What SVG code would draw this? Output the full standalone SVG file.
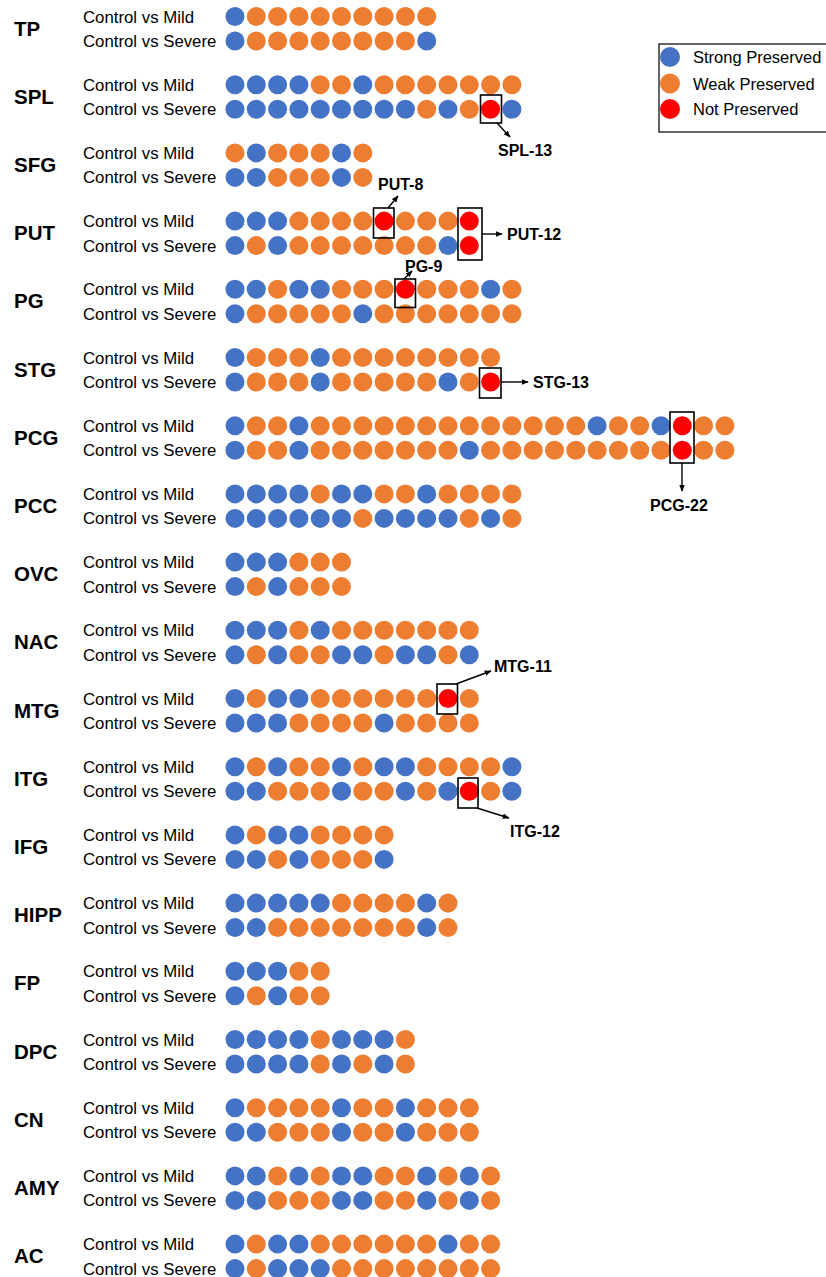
<svg xmlns="http://www.w3.org/2000/svg" width="826" height="1277" viewBox="0 0 826 1277">
<style>
.b{fill:#4472C4}.o{fill:#ED7D31}.r{fill:#FF0000}
.reg{font-family:"Liberation Sans",Arial,sans-serif;font-weight:bold;font-size:20.5px;fill:#000}
.sub{font-family:"Liberation Sans",Arial,sans-serif;font-size:16.8px;fill:#000}
.leg{font-family:"Liberation Sans",Arial,sans-serif;font-size:16.5px;fill:#000}
.ann{font-family:"Liberation Sans",Arial,sans-serif;font-weight:bold;font-size:16px;fill:#000}
.box{fill:none;stroke:#000;stroke-width:1.6}
.ln{fill:none;stroke:#000;stroke-width:1.4;marker-end:url(#ah)}
</style>
<defs>
<marker id="ah" viewBox="0 0 10 10" refX="9" refY="5" markerWidth="5" markerHeight="5" orient="auto" markerUnits="strokeWidth"><path d="M0,1 L10,5 L0,9 Z" fill="#000"/></marker>
</defs>
<rect width="826" height="1277" fill="#fff"/>

<g id="legend">
<rect x="659" y="44" width="190" height="88" fill="#fff" stroke="#000" stroke-width="1.2"/>
<circle class="b" cx="670" cy="57" r="10"/>
<circle class="o" cx="670" cy="83.5" r="10"/>
<circle class="r" cx="670" cy="109" r="10"/>
<text class="leg" x="693" y="63">Strong Preserved</text>
<text class="leg" x="693" y="89.5">Weak Preserved</text>
<text class="leg" x="693" y="115">Not Preserved</text>
</g>

<g id="TP">
<text class="reg" x="14" y="35.5">TP</text>
<text class="sub" x="83" y="22.5">Control vs Mild</text>
<text class="sub" x="83" y="47">Control vs Severe</text>
<g transform="translate(0,16.5)"><circle class="b" cx="235" r="9.5"/><circle class="o" cx="256.3" r="9.5"/><circle class="o" cx="277.6" r="9.5"/><circle class="o" cx="298.9" r="9.5"/><circle class="o" cx="320.2" r="9.5"/><circle class="o" cx="341.5" r="9.5"/><circle class="o" cx="362.8" r="9.5"/><circle class="o" cx="384.1" r="9.5"/><circle class="o" cx="405.4" r="9.5"/><circle class="o" cx="426.7" r="9.5"/></g>
<g transform="translate(0,41)"><circle class="b" cx="235" r="9.5"/><circle class="o" cx="256.3" r="9.5"/><circle class="o" cx="277.6" r="9.5"/><circle class="o" cx="298.9" r="9.5"/><circle class="o" cx="320.2" r="9.5"/><circle class="o" cx="341.5" r="9.5"/><circle class="o" cx="362.8" r="9.5"/><circle class="o" cx="384.1" r="9.5"/><circle class="o" cx="405.4" r="9.5"/><circle class="b" cx="426.7" r="9.5"/></g>
</g>

<g id="SPL">
<text class="reg" x="14" y="103.7">SPL</text>
<text class="sub" x="83" y="90.7">Control vs Mild</text>
<text class="sub" x="83" y="115.2">Control vs Severe</text>
<g transform="translate(0,84.7)"><circle class="b" cx="235" r="9.5"/><circle class="b" cx="256.3" r="9.5"/><circle class="b" cx="277.6" r="9.5"/><circle class="b" cx="298.9" r="9.5"/><circle class="o" cx="320.2" r="9.5"/><circle class="o" cx="341.5" r="9.5"/><circle class="b" cx="362.8" r="9.5"/><circle class="o" cx="384.1" r="9.5"/><circle class="o" cx="405.4" r="9.5"/><circle class="o" cx="426.7" r="9.5"/><circle class="o" cx="448" r="9.5"/><circle class="o" cx="469.3" r="9.5"/><circle class="o" cx="490.6" r="9.5"/><circle class="o" cx="511.9" r="9.5"/></g>
<g transform="translate(0,109.2)"><circle class="b" cx="235" r="9.5"/><circle class="b" cx="256.3" r="9.5"/><circle class="b" cx="277.6" r="9.5"/><circle class="b" cx="298.9" r="9.5"/><circle class="b" cx="320.2" r="9.5"/><circle class="b" cx="341.5" r="9.5"/><circle class="b" cx="362.8" r="9.5"/><circle class="b" cx="384.1" r="9.5"/><circle class="b" cx="405.4" r="9.5"/><circle class="o" cx="426.7" r="9.5"/><circle class="b" cx="448" r="9.5"/><circle class="o" cx="469.3" r="9.5"/><circle class="r" cx="490.6" r="9.5"/><circle class="b" cx="511.9" r="9.5"/></g>
</g>

<g id="SFG">
<text class="reg" x="14" y="171.9">SFG</text>
<text class="sub" x="83" y="158.9">Control vs Mild</text>
<text class="sub" x="83" y="183.4">Control vs Severe</text>
<g transform="translate(0,152.9)"><circle class="o" cx="235" r="9.5"/><circle class="b" cx="256.3" r="9.5"/><circle class="o" cx="277.6" r="9.5"/><circle class="o" cx="298.9" r="9.5"/><circle class="o" cx="320.2" r="9.5"/><circle class="b" cx="341.5" r="9.5"/><circle class="o" cx="362.8" r="9.5"/></g>
<g transform="translate(0,177.4)"><circle class="b" cx="235" r="9.5"/><circle class="b" cx="256.3" r="9.5"/><circle class="o" cx="277.6" r="9.5"/><circle class="o" cx="298.9" r="9.5"/><circle class="o" cx="320.2" r="9.5"/><circle class="b" cx="341.5" r="9.5"/><circle class="o" cx="362.8" r="9.5"/></g>
</g>

<g id="PUT">
<text class="reg" x="14" y="240.1">PUT</text>
<text class="sub" x="83" y="227.1">Control vs Mild</text>
<text class="sub" x="83" y="251.6">Control vs Severe</text>
<g transform="translate(0,221.1)"><circle class="b" cx="235" r="9.5"/><circle class="b" cx="256.3" r="9.5"/><circle class="b" cx="277.6" r="9.5"/><circle class="o" cx="298.9" r="9.5"/><circle class="o" cx="320.2" r="9.5"/><circle class="o" cx="341.5" r="9.5"/><circle class="o" cx="362.8" r="9.5"/><circle class="r" cx="384.1" r="9.5"/><circle class="o" cx="405.4" r="9.5"/><circle class="o" cx="426.7" r="9.5"/><circle class="o" cx="448" r="9.5"/><circle class="r" cx="469.3" r="9.5"/></g>
<g transform="translate(0,245.6)"><circle class="b" cx="235" r="9.5"/><circle class="o" cx="256.3" r="9.5"/><circle class="b" cx="277.6" r="9.5"/><circle class="o" cx="298.9" r="9.5"/><circle class="o" cx="320.2" r="9.5"/><circle class="o" cx="341.5" r="9.5"/><circle class="o" cx="362.8" r="9.5"/><circle class="o" cx="384.1" r="9.5"/><circle class="o" cx="405.4" r="9.5"/><circle class="o" cx="426.7" r="9.5"/><circle class="b" cx="448" r="9.5"/><circle class="r" cx="469.3" r="9.5"/></g>
</g>

<g id="PG">
<text class="reg" x="14" y="308.3">PG</text>
<text class="sub" x="83" y="295.3">Control vs Mild</text>
<text class="sub" x="83" y="319.8">Control vs Severe</text>
<g transform="translate(0,289.3)"><circle class="b" cx="235" r="9.5"/><circle class="b" cx="256.3" r="9.5"/><circle class="o" cx="277.6" r="9.5"/><circle class="b" cx="298.9" r="9.5"/><circle class="b" cx="320.2" r="9.5"/><circle class="o" cx="341.5" r="9.5"/><circle class="o" cx="362.8" r="9.5"/><circle class="o" cx="384.1" r="9.5"/><circle class="r" cx="405.4" r="9.5"/><circle class="o" cx="426.7" r="9.5"/><circle class="o" cx="448" r="9.5"/><circle class="o" cx="469.3" r="9.5"/><circle class="b" cx="490.6" r="9.5"/><circle class="o" cx="511.9" r="9.5"/></g>
<g transform="translate(0,313.8)"><circle class="b" cx="235" r="9.5"/><circle class="o" cx="256.3" r="9.5"/><circle class="o" cx="277.6" r="9.5"/><circle class="o" cx="298.9" r="9.5"/><circle class="o" cx="320.2" r="9.5"/><circle class="o" cx="341.5" r="9.5"/><circle class="b" cx="362.8" r="9.5"/><circle class="o" cx="384.1" r="9.5"/><circle class="o" cx="405.4" r="9.5"/><circle class="o" cx="426.7" r="9.5"/><circle class="o" cx="448" r="9.5"/><circle class="o" cx="469.3" r="9.5"/><circle class="o" cx="490.6" r="9.5"/><circle class="o" cx="511.9" r="9.5"/></g>
</g>

<g id="STG">
<text class="reg" x="14" y="376.5">STG</text>
<text class="sub" x="83" y="363.5">Control vs Mild</text>
<text class="sub" x="83" y="388">Control vs Severe</text>
<g transform="translate(0,357.5)"><circle class="b" cx="235" r="9.5"/><circle class="o" cx="256.3" r="9.5"/><circle class="o" cx="277.6" r="9.5"/><circle class="o" cx="298.9" r="9.5"/><circle class="b" cx="320.2" r="9.5"/><circle class="o" cx="341.5" r="9.5"/><circle class="o" cx="362.8" r="9.5"/><circle class="o" cx="384.1" r="9.5"/><circle class="o" cx="405.4" r="9.5"/><circle class="o" cx="426.7" r="9.5"/><circle class="o" cx="448" r="9.5"/><circle class="o" cx="469.3" r="9.5"/><circle class="o" cx="490.6" r="9.5"/></g>
<g transform="translate(0,382)"><circle class="b" cx="235" r="9.5"/><circle class="o" cx="256.3" r="9.5"/><circle class="o" cx="277.6" r="9.5"/><circle class="o" cx="298.9" r="9.5"/><circle class="b" cx="320.2" r="9.5"/><circle class="o" cx="341.5" r="9.5"/><circle class="o" cx="362.8" r="9.5"/><circle class="o" cx="384.1" r="9.5"/><circle class="o" cx="405.4" r="9.5"/><circle class="o" cx="426.7" r="9.5"/><circle class="b" cx="448" r="9.5"/><circle class="o" cx="469.3" r="9.5"/><circle class="r" cx="490.6" r="9.5"/></g>
</g>

<g id="PCG">
<text class="reg" x="14" y="444.7">PCG</text>
<text class="sub" x="83" y="431.7">Control vs Mild</text>
<text class="sub" x="83" y="456.2">Control vs Severe</text>
<g transform="translate(0,425.7)"><circle class="b" cx="235" r="9.5"/><circle class="o" cx="256.3" r="9.5"/><circle class="o" cx="277.6" r="9.5"/><circle class="b" cx="298.9" r="9.5"/><circle class="o" cx="320.2" r="9.5"/><circle class="o" cx="341.5" r="9.5"/><circle class="o" cx="362.8" r="9.5"/><circle class="o" cx="384.1" r="9.5"/><circle class="o" cx="405.4" r="9.5"/><circle class="o" cx="426.7" r="9.5"/><circle class="o" cx="448" r="9.5"/><circle class="o" cx="469.3" r="9.5"/><circle class="o" cx="490.6" r="9.5"/><circle class="o" cx="511.9" r="9.5"/><circle class="o" cx="533.2" r="9.5"/><circle class="o" cx="554.5" r="9.5"/><circle class="o" cx="575.8" r="9.5"/><circle class="b" cx="597.1" r="9.5"/><circle class="o" cx="618.4" r="9.5"/><circle class="o" cx="639.7" r="9.5"/><circle class="b" cx="661" r="9.5"/><circle class="r" cx="682.3" r="9.5"/><circle class="o" cx="703.6" r="9.5"/><circle class="o" cx="724.9" r="9.5"/></g>
<g transform="translate(0,450.2)"><circle class="b" cx="235" r="9.5"/><circle class="o" cx="256.3" r="9.5"/><circle class="o" cx="277.6" r="9.5"/><circle class="b" cx="298.9" r="9.5"/><circle class="o" cx="320.2" r="9.5"/><circle class="o" cx="341.5" r="9.5"/><circle class="o" cx="362.8" r="9.5"/><circle class="o" cx="384.1" r="9.5"/><circle class="o" cx="405.4" r="9.5"/><circle class="o" cx="426.7" r="9.5"/><circle class="o" cx="448" r="9.5"/><circle class="b" cx="469.3" r="9.5"/><circle class="o" cx="490.6" r="9.5"/><circle class="o" cx="511.9" r="9.5"/><circle class="o" cx="533.2" r="9.5"/><circle class="o" cx="554.5" r="9.5"/><circle class="o" cx="575.8" r="9.5"/><circle class="o" cx="597.1" r="9.5"/><circle class="o" cx="618.4" r="9.5"/><circle class="o" cx="639.7" r="9.5"/><circle class="o" cx="661" r="9.5"/><circle class="r" cx="682.3" r="9.5"/><circle class="o" cx="703.6" r="9.5"/><circle class="o" cx="724.9" r="9.5"/></g>
</g>

<g id="PCC">
<text class="reg" x="14" y="512.9">PCC</text>
<text class="sub" x="83" y="499.9">Control vs Mild</text>
<text class="sub" x="83" y="524.4">Control vs Severe</text>
<g transform="translate(0,493.9)"><circle class="b" cx="235" r="9.5"/><circle class="b" cx="256.3" r="9.5"/><circle class="b" cx="277.6" r="9.5"/><circle class="b" cx="298.9" r="9.5"/><circle class="o" cx="320.2" r="9.5"/><circle class="b" cx="341.5" r="9.5"/><circle class="b" cx="362.8" r="9.5"/><circle class="o" cx="384.1" r="9.5"/><circle class="o" cx="405.4" r="9.5"/><circle class="b" cx="426.7" r="9.5"/><circle class="o" cx="448" r="9.5"/><circle class="o" cx="469.3" r="9.5"/><circle class="o" cx="490.6" r="9.5"/><circle class="o" cx="511.9" r="9.5"/></g>
<g transform="translate(0,518.4)"><circle class="b" cx="235" r="9.5"/><circle class="b" cx="256.3" r="9.5"/><circle class="b" cx="277.6" r="9.5"/><circle class="b" cx="298.9" r="9.5"/><circle class="b" cx="320.2" r="9.5"/><circle class="b" cx="341.5" r="9.5"/><circle class="o" cx="362.8" r="9.5"/><circle class="b" cx="384.1" r="9.5"/><circle class="b" cx="405.4" r="9.5"/><circle class="b" cx="426.7" r="9.5"/><circle class="b" cx="448" r="9.5"/><circle class="o" cx="469.3" r="9.5"/><circle class="b" cx="490.6" r="9.5"/><circle class="o" cx="511.9" r="9.5"/></g>
</g>

<g id="OVC">
<text class="reg" x="14" y="581.1">OVC</text>
<text class="sub" x="83" y="568.1">Control vs Mild</text>
<text class="sub" x="83" y="592.6">Control vs Severe</text>
<g transform="translate(0,562.1)"><circle class="b" cx="235" r="9.5"/><circle class="b" cx="256.3" r="9.5"/><circle class="b" cx="277.6" r="9.5"/><circle class="o" cx="298.9" r="9.5"/><circle class="o" cx="320.2" r="9.5"/><circle class="o" cx="341.5" r="9.5"/></g>
<g transform="translate(0,586.6)"><circle class="b" cx="235" r="9.5"/><circle class="o" cx="256.3" r="9.5"/><circle class="b" cx="277.6" r="9.5"/><circle class="o" cx="298.9" r="9.5"/><circle class="o" cx="320.2" r="9.5"/><circle class="o" cx="341.5" r="9.5"/></g>
</g>

<g id="NAC">
<text class="reg" x="14" y="649.3">NAC</text>
<text class="sub" x="83" y="636.3">Control vs Mild</text>
<text class="sub" x="83" y="660.8">Control vs Severe</text>
<g transform="translate(0,630.3)"><circle class="b" cx="235" r="9.5"/><circle class="b" cx="256.3" r="9.5"/><circle class="b" cx="277.6" r="9.5"/><circle class="o" cx="298.9" r="9.5"/><circle class="b" cx="320.2" r="9.5"/><circle class="o" cx="341.5" r="9.5"/><circle class="o" cx="362.8" r="9.5"/><circle class="o" cx="384.1" r="9.5"/><circle class="o" cx="405.4" r="9.5"/><circle class="o" cx="426.7" r="9.5"/><circle class="o" cx="448" r="9.5"/><circle class="o" cx="469.3" r="9.5"/></g>
<g transform="translate(0,654.8)"><circle class="b" cx="235" r="9.5"/><circle class="o" cx="256.3" r="9.5"/><circle class="b" cx="277.6" r="9.5"/><circle class="o" cx="298.9" r="9.5"/><circle class="o" cx="320.2" r="9.5"/><circle class="b" cx="341.5" r="9.5"/><circle class="b" cx="362.8" r="9.5"/><circle class="o" cx="384.1" r="9.5"/><circle class="b" cx="405.4" r="9.5"/><circle class="b" cx="426.7" r="9.5"/><circle class="o" cx="448" r="9.5"/><circle class="b" cx="469.3" r="9.5"/></g>
</g>

<g id="MTG">
<text class="reg" x="14" y="717.5">MTG</text>
<text class="sub" x="83" y="704.5">Control vs Mild</text>
<text class="sub" x="83" y="729">Control vs Severe</text>
<g transform="translate(0,698.5)"><circle class="b" cx="235" r="9.5"/><circle class="o" cx="256.3" r="9.5"/><circle class="b" cx="277.6" r="9.5"/><circle class="b" cx="298.9" r="9.5"/><circle class="o" cx="320.2" r="9.5"/><circle class="o" cx="341.5" r="9.5"/><circle class="o" cx="362.8" r="9.5"/><circle class="o" cx="384.1" r="9.5"/><circle class="o" cx="405.4" r="9.5"/><circle class="o" cx="426.7" r="9.5"/><circle class="r" cx="448" r="9.5"/><circle class="o" cx="469.3" r="9.5"/></g>
<g transform="translate(0,723)"><circle class="b" cx="235" r="9.5"/><circle class="b" cx="256.3" r="9.5"/><circle class="b" cx="277.6" r="9.5"/><circle class="o" cx="298.9" r="9.5"/><circle class="o" cx="320.2" r="9.5"/><circle class="o" cx="341.5" r="9.5"/><circle class="o" cx="362.8" r="9.5"/><circle class="b" cx="384.1" r="9.5"/><circle class="o" cx="405.4" r="9.5"/><circle class="o" cx="426.7" r="9.5"/><circle class="o" cx="448" r="9.5"/><circle class="o" cx="469.3" r="9.5"/></g>
</g>

<g id="ITG">
<text class="reg" x="14" y="785.7">ITG</text>
<text class="sub" x="83" y="772.7">Control vs Mild</text>
<text class="sub" x="83" y="797.2">Control vs Severe</text>
<g transform="translate(0,766.7)"><circle class="b" cx="235" r="9.5"/><circle class="o" cx="256.3" r="9.5"/><circle class="b" cx="277.6" r="9.5"/><circle class="o" cx="298.9" r="9.5"/><circle class="o" cx="320.2" r="9.5"/><circle class="b" cx="341.5" r="9.5"/><circle class="o" cx="362.8" r="9.5"/><circle class="b" cx="384.1" r="9.5"/><circle class="b" cx="405.4" r="9.5"/><circle class="o" cx="426.7" r="9.5"/><circle class="o" cx="448" r="9.5"/><circle class="o" cx="469.3" r="9.5"/><circle class="o" cx="490.6" r="9.5"/><circle class="b" cx="511.9" r="9.5"/></g>
<g transform="translate(0,791.2)"><circle class="b" cx="235" r="9.5"/><circle class="b" cx="256.3" r="9.5"/><circle class="o" cx="277.6" r="9.5"/><circle class="o" cx="298.9" r="9.5"/><circle class="o" cx="320.2" r="9.5"/><circle class="b" cx="341.5" r="9.5"/><circle class="o" cx="362.8" r="9.5"/><circle class="o" cx="384.1" r="9.5"/><circle class="b" cx="405.4" r="9.5"/><circle class="o" cx="426.7" r="9.5"/><circle class="b" cx="448" r="9.5"/><circle class="r" cx="469.3" r="9.5"/><circle class="o" cx="490.6" r="9.5"/><circle class="b" cx="511.9" r="9.5"/></g>
</g>

<g id="IFG">
<text class="reg" x="14" y="853.9">IFG</text>
<text class="sub" x="83" y="840.9">Control vs Mild</text>
<text class="sub" x="83" y="865.4">Control vs Severe</text>
<g transform="translate(0,834.9)"><circle class="b" cx="235" r="9.5"/><circle class="o" cx="256.3" r="9.5"/><circle class="b" cx="277.6" r="9.5"/><circle class="b" cx="298.9" r="9.5"/><circle class="o" cx="320.2" r="9.5"/><circle class="o" cx="341.5" r="9.5"/><circle class="o" cx="362.8" r="9.5"/><circle class="o" cx="384.1" r="9.5"/></g>
<g transform="translate(0,859.4)"><circle class="b" cx="235" r="9.5"/><circle class="b" cx="256.3" r="9.5"/><circle class="o" cx="277.6" r="9.5"/><circle class="b" cx="298.9" r="9.5"/><circle class="o" cx="320.2" r="9.5"/><circle class="o" cx="341.5" r="9.5"/><circle class="o" cx="362.8" r="9.5"/><circle class="b" cx="384.1" r="9.5"/></g>
</g>

<g id="HIPP">
<text class="reg" x="14" y="922.1">HIPP</text>
<text class="sub" x="83" y="909.1">Control vs Mild</text>
<text class="sub" x="83" y="933.6">Control vs Severe</text>
<g transform="translate(0,903.1)"><circle class="b" cx="235" r="9.5"/><circle class="b" cx="256.3" r="9.5"/><circle class="b" cx="277.6" r="9.5"/><circle class="b" cx="298.9" r="9.5"/><circle class="b" cx="320.2" r="9.5"/><circle class="o" cx="341.5" r="9.5"/><circle class="o" cx="362.8" r="9.5"/><circle class="o" cx="384.1" r="9.5"/><circle class="o" cx="405.4" r="9.5"/><circle class="b" cx="426.7" r="9.5"/><circle class="o" cx="448" r="9.5"/></g>
<g transform="translate(0,927.6)"><circle class="b" cx="235" r="9.5"/><circle class="b" cx="256.3" r="9.5"/><circle class="o" cx="277.6" r="9.5"/><circle class="o" cx="298.9" r="9.5"/><circle class="o" cx="320.2" r="9.5"/><circle class="o" cx="341.5" r="9.5"/><circle class="o" cx="362.8" r="9.5"/><circle class="o" cx="384.1" r="9.5"/><circle class="o" cx="405.4" r="9.5"/><circle class="b" cx="426.7" r="9.5"/><circle class="o" cx="448" r="9.5"/></g>
</g>

<g id="FP">
<text class="reg" x="14" y="990.3">FP</text>
<text class="sub" x="83" y="977.3">Control vs Mild</text>
<text class="sub" x="83" y="1001.8">Control vs Severe</text>
<g transform="translate(0,971.3)"><circle class="b" cx="235" r="9.5"/><circle class="b" cx="256.3" r="9.5"/><circle class="b" cx="277.6" r="9.5"/><circle class="o" cx="298.9" r="9.5"/><circle class="o" cx="320.2" r="9.5"/></g>
<g transform="translate(0,995.8)"><circle class="b" cx="235" r="9.5"/><circle class="o" cx="256.3" r="9.5"/><circle class="b" cx="277.6" r="9.5"/><circle class="o" cx="298.9" r="9.5"/><circle class="o" cx="320.2" r="9.5"/></g>
</g>

<g id="DPC">
<text class="reg" x="14" y="1058.5">DPC</text>
<text class="sub" x="83" y="1045.5">Control vs Mild</text>
<text class="sub" x="83" y="1070">Control vs Severe</text>
<g transform="translate(0,1039.5)"><circle class="b" cx="235" r="9.5"/><circle class="b" cx="256.3" r="9.5"/><circle class="b" cx="277.6" r="9.5"/><circle class="b" cx="298.9" r="9.5"/><circle class="o" cx="320.2" r="9.5"/><circle class="b" cx="341.5" r="9.5"/><circle class="b" cx="362.8" r="9.5"/><circle class="b" cx="384.1" r="9.5"/><circle class="o" cx="405.4" r="9.5"/></g>
<g transform="translate(0,1064)"><circle class="b" cx="235" r="9.5"/><circle class="b" cx="256.3" r="9.5"/><circle class="b" cx="277.6" r="9.5"/><circle class="b" cx="298.9" r="9.5"/><circle class="o" cx="320.2" r="9.5"/><circle class="b" cx="341.5" r="9.5"/><circle class="o" cx="362.8" r="9.5"/><circle class="b" cx="384.1" r="9.5"/><circle class="o" cx="405.4" r="9.5"/></g>
</g>

<g id="CN">
<text class="reg" x="14" y="1126.7">CN</text>
<text class="sub" x="83" y="1113.7">Control vs Mild</text>
<text class="sub" x="83" y="1138.2">Control vs Severe</text>
<g transform="translate(0,1107.7)"><circle class="b" cx="235" r="9.5"/><circle class="o" cx="256.3" r="9.5"/><circle class="o" cx="277.6" r="9.5"/><circle class="o" cx="298.9" r="9.5"/><circle class="o" cx="320.2" r="9.5"/><circle class="b" cx="341.5" r="9.5"/><circle class="o" cx="362.8" r="9.5"/><circle class="o" cx="384.1" r="9.5"/><circle class="b" cx="405.4" r="9.5"/><circle class="o" cx="426.7" r="9.5"/><circle class="o" cx="448" r="9.5"/><circle class="o" cx="469.3" r="9.5"/></g>
<g transform="translate(0,1132.2)"><circle class="b" cx="235" r="9.5"/><circle class="b" cx="256.3" r="9.5"/><circle class="o" cx="277.6" r="9.5"/><circle class="o" cx="298.9" r="9.5"/><circle class="o" cx="320.2" r="9.5"/><circle class="b" cx="341.5" r="9.5"/><circle class="o" cx="362.8" r="9.5"/><circle class="o" cx="384.1" r="9.5"/><circle class="b" cx="405.4" r="9.5"/><circle class="o" cx="426.7" r="9.5"/><circle class="o" cx="448" r="9.5"/><circle class="o" cx="469.3" r="9.5"/></g>
</g>

<g id="AMY">
<text class="reg" x="14" y="1194.9">AMY</text>
<text class="sub" x="83" y="1181.9">Control vs Mild</text>
<text class="sub" x="83" y="1206.4">Control vs Severe</text>
<g transform="translate(0,1175.9)"><circle class="b" cx="235" r="9.5"/><circle class="b" cx="256.3" r="9.5"/><circle class="o" cx="277.6" r="9.5"/><circle class="b" cx="298.9" r="9.5"/><circle class="o" cx="320.2" r="9.5"/><circle class="b" cx="341.5" r="9.5"/><circle class="b" cx="362.8" r="9.5"/><circle class="o" cx="384.1" r="9.5"/><circle class="o" cx="405.4" r="9.5"/><circle class="b" cx="426.7" r="9.5"/><circle class="o" cx="448" r="9.5"/><circle class="b" cx="469.3" r="9.5"/><circle class="o" cx="490.6" r="9.5"/></g>
<g transform="translate(0,1200.4)"><circle class="b" cx="235" r="9.5"/><circle class="b" cx="256.3" r="9.5"/><circle class="o" cx="277.6" r="9.5"/><circle class="o" cx="298.9" r="9.5"/><circle class="o" cx="320.2" r="9.5"/><circle class="b" cx="341.5" r="9.5"/><circle class="b" cx="362.8" r="9.5"/><circle class="o" cx="384.1" r="9.5"/><circle class="o" cx="405.4" r="9.5"/><circle class="b" cx="426.7" r="9.5"/><circle class="o" cx="448" r="9.5"/><circle class="b" cx="469.3" r="9.5"/><circle class="o" cx="490.6" r="9.5"/></g>
</g>

<g id="AC">
<text class="reg" x="14" y="1263.1">AC</text>
<text class="sub" x="83" y="1250.1">Control vs Mild</text>
<text class="sub" x="83" y="1274.6">Control vs Severe</text>
<g transform="translate(0,1244.1)"><circle class="b" cx="235" r="9.5"/><circle class="o" cx="256.3" r="9.5"/><circle class="b" cx="277.6" r="9.5"/><circle class="b" cx="298.9" r="9.5"/><circle class="o" cx="320.2" r="9.5"/><circle class="o" cx="341.5" r="9.5"/><circle class="o" cx="362.8" r="9.5"/><circle class="o" cx="384.1" r="9.5"/><circle class="o" cx="405.4" r="9.5"/><circle class="o" cx="426.7" r="9.5"/><circle class="b" cx="448" r="9.5"/><circle class="o" cx="469.3" r="9.5"/><circle class="o" cx="490.6" r="9.5"/></g>
<g transform="translate(0,1268.6)"><circle class="b" cx="235" r="9.5"/><circle class="o" cx="256.3" r="9.5"/><circle class="b" cx="277.6" r="9.5"/><circle class="b" cx="298.9" r="9.5"/><circle class="b" cx="320.2" r="9.5"/><circle class="o" cx="341.5" r="9.5"/><circle class="o" cx="362.8" r="9.5"/><circle class="o" cx="384.1" r="9.5"/><circle class="o" cx="405.4" r="9.5"/><circle class="o" cx="426.7" r="9.5"/><circle class="o" cx="448" r="9.5"/><circle class="o" cx="469.3" r="9.5"/><circle class="o" cx="490.6" r="9.5"/></g>
</g>

<g id="connectors">
<rect class="box" x="480.5" y="95" width="21" height="28"/>
<path class="ln" d="M497,123 L510,137"/>
<text class="ann" x="498" y="156">SPL-13</text>

<rect class="box" x="373.5" y="208" width="20.5" height="30"/>
<path class="ln" d="M388,208 L398,196"/>
<text class="ann" x="378" y="190">PUT-8</text>

<rect class="box" x="458" y="208" width="24" height="52"/>
<path class="ln" d="M482,234 L502,234"/>
<text class="ann" x="507" y="240">PUT-12</text>

<rect class="box" x="395" y="279" width="20.5" height="28.5"/>
<path class="ln" d="M404,279 L412,271"/>
<text class="ann" x="405" y="272">PG-9</text>

<rect class="box" x="479.5" y="368" width="21.5" height="30"/>
<path class="ln" d="M501,382 L528,382"/>
<text class="ann" x="533" y="388">STG-13</text>

<rect class="box" x="670" y="412" width="24" height="51"/>
<path class="ln" d="M682,463 L682,491"/>
<text class="ann" x="650" y="511">PCG-22</text>

<rect class="box" x="437" y="684" width="20.5" height="30"/>
<path class="ln" d="M456,684 L491,671"/>
<text class="ann" x="494" y="672">MTG-11</text>

<rect class="box" x="458" y="778" width="20" height="30"/>
<path class="ln" d="M477,808 L509,818"/>
<text class="ann" x="510" y="837">ITG-12</text>
</g>
</svg>
